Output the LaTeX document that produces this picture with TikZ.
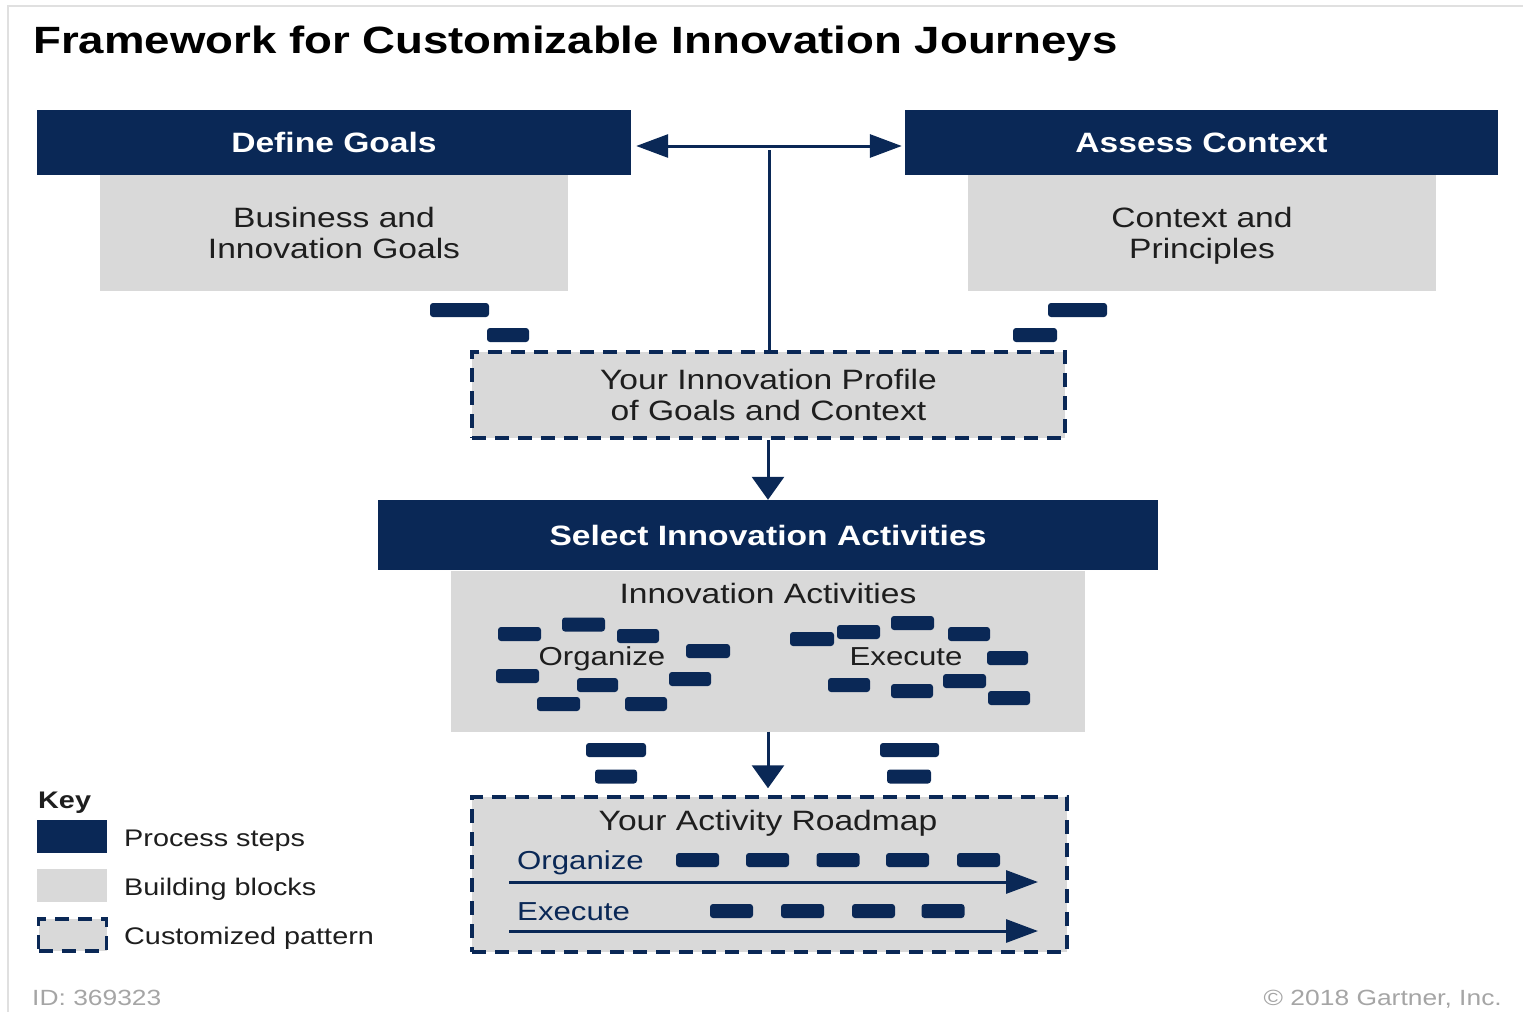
\documentclass[tikz,border=0pt]{standalone}
\usepackage{fontspec}
\setmainfont{Liberation Sans}[FakeStretch=1.2]
\usetikzlibrary{arrows.meta}
\definecolor{navy}{RGB}{10,40,86}
\definecolor{blockgray}{RGB}{217,217,217}
\definecolor{txt}{RGB}{30,30,30}
\definecolor{idgray}{RGB}{165,165,165}
\tikzset{
  stephead/.style={fill=navy,text=white,font=\fontsize{28}{31}\selectfont\bfseries,inner sep=0pt},
  buildblock/.style={fill=blockgray,text=txt,font=\fontsize{28}{31}\selectfont,align=center,inner sep=0pt},
  custpat/.style={buildblock,draw=navy,line width=3.5pt,dash pattern=on 14pt off 9pt},
  blk/.style={fill=navy,rounded corners=3pt,minimum height=14pt,inner sep=0pt},
  conn/.style={navy,line width=3pt},
  harrow/.style={conn,-{Triangle[length=32pt,width=23pt]}},
  varrow/.style={conn,-{Triangle[length=23pt,width=32pt]}},
  keytext/.style={anchor=base west,text=txt,font=\fontsize{24}{26}\selectfont,inner sep=0pt},
}
\begin{document}
\begin{tikzpicture}[x=1pt,y=-1pt]
\useasboundingbox (0,0) rectangle (1523,1012);
\draw[black!12,line width=1.5pt] (8,1012)--(8,6)--(1523,6);
\node[anchor=base west,inner sep=0pt,font=\fontsize{38}{41}\selectfont\bfseries] (title) at (33,53) {Framework for Customizable Innovation Journeys};

\node[stephead,minimum width=594pt,minimum height=65pt] (goals) at (334,142.5) {Define Goals};
\node[buildblock,minimum width=468pt,minimum height=116pt] (goalbox) at (334,233) {Business and\\Innovation Goals};
\node[stephead,minimum width=593pt,minimum height=65pt] (context) at (1201.5,142.5) {Assess Context};
\node[buildblock,minimum width=468pt,minimum height=116pt,text depth=0pt] (ctxbox) at (1202,233) {Context and\\Principles};
\node[custpat,minimum width=593pt,minimum height=86pt] (profile) at (768.5,395) {Your Innovation Profile\\of Goals and Context};
\node[stephead,minimum width=780pt,minimum height=70pt] (select) at (768,535) {Select Innovation Activities};
\node[buildblock,minimum width=634pt,minimum height=161pt] (acts) at (768,651) {};
\node[buildblock,fill=none] (actlbl) at (768,593) {Innovation Activities};
\node[buildblock,fill=none,anchor=base,font=\fontsize{26}{28}\selectfont] (actorg) at (602,665) {Organize};
\node[buildblock,fill=none,anchor=base,font=\fontsize{26}{28}\selectfont] (actexe) at (906,665) {Execute};
\node[custpat,minimum width=595pt,minimum height=155pt] (roadmap) at (769.5,874.5) {};
\node[buildblock,fill=none,anchor=base] (maplbl) at (768,830) {Your Activity Roadmap};
\node[anchor=base west,inner sep=0pt,text=navy,font=\fontsize{26}{28}\selectfont] (maporg) at (517,869) {Organize};
\node[anchor=base west,inner sep=0pt,text=navy,font=\fontsize{26}{28}\selectfont] (mapexe) at (517,920) {Execute};

\draw[conn,{Triangle[length=32pt,width=23pt]}-{Triangle[length=32pt,width=23pt]}] ([xshift=5pt,yshift=-3.5pt]goals.east)--([xshift=-3pt,yshift=-3.5pt]context.west);
\coordinate (junct) at (769,150);
\draw[conn] (junct)--(junct |- profile.north);
\draw[varrow] (select.north |- profile.south)--(select.north);
\draw[varrow,shorten >=7pt] (acts.south)--(acts.south |- roadmap.north);
\coordinate (orgstart) at (509,882);
\coordinate (orgend) at (1038,882);
\coordinate (exestart) at (509,931);
\coordinate (exeend) at (1038,931);
\draw[harrow] (orgstart)--(orgend);
\draw[harrow] (exestart)--(exeend);

\foreach \bx/\by/\bw [count=\i] in {459.5/310/59,508/335/42,1077.5/310/59,1035/335/44,
  519.5/634/43,583.5/624.5/43,638/636/42,708/651/44,517.5/676/43,597.5/685/41,690/679/42,558.5/704/43,646/704/42,
  812/639/44,858.5/632/43,912.5/623/43,969/634/42,1007.5/658/41,849/685/42,912/691/42,964.5/681/43,1009/698/42,
  616/750/60,616/776.5/42,909.5/750/59,909/776.5/44,
  697.5/860/43,767.5/860/43,838/860/43,907.5/860/43,978.5/860/43,
  731.5/911/43,802.5/911/43,873.5/911/43,943/911/43}
  \node[blk,minimum width=\bw pt] (bar\i) at (\bx,\by) {};

\node[keytext,font=\fontsize{24}{26}\selectfont\bfseries] (key) at (38,808) {Key};
\node[stephead,minimum width=70pt,minimum height=33pt] (keyproc) at (72,836.5) {};
\node[buildblock,minimum width=70pt,minimum height=33pt] (keyblock) at (72,885.5) {};
\node[custpat,minimum width=68pt,minimum height=32pt] (keycust) at (72.5,935) {};
\node[keytext] (proctext) at (124,846) {Process steps};
\node[keytext] (blocktext) at (124,895) {Building blocks};
\node[keytext] (custtext) at (124,944) {Customized pattern};
\node[anchor=base west,inner sep=0pt,text=idgray,font=\fontsize{22}{24}\selectfont] (docid) at (32,1005) {ID: 369323};
\node[anchor=base east,inner sep=0pt,text=idgray,font=\fontsize{22}{24}\selectfont] (copy) at (1502,1005) {© 2018 Gartner, Inc.};
\end{tikzpicture}
\end{document}
